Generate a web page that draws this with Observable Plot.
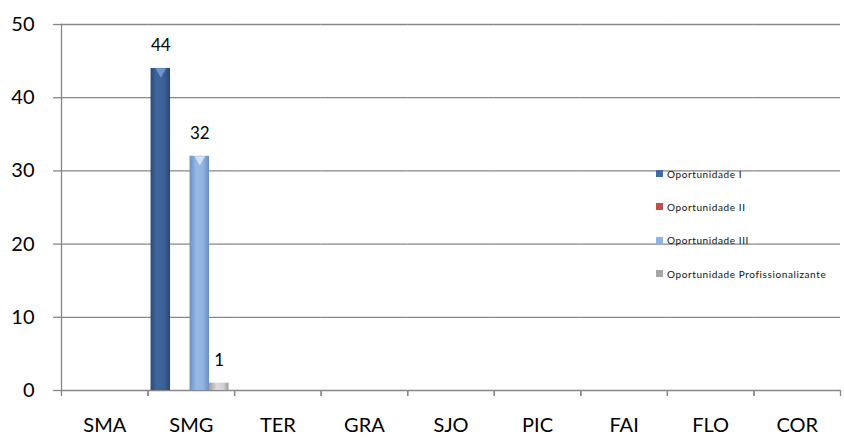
<!DOCTYPE html>
<html><head><meta charset="utf-8">
<script src="https://cdn.jsdelivr.net/npm/d3@7"></script>
<script src="https://cdn.jsdelivr.net/npm/@observablehq/plot@0.6"></script>
<style>
body{margin:0;background:#fff;font-family:Lato,sans-serif}
#wrap{position:relative;width:844px;height:438px}
#legend{position:absolute;left:656px;top:157px;font-size:10px;color:#111;letter-spacing:0.6px}
.item{display:flex;align-items:center;height:33.3px;white-space:nowrap}
.sw{width:7px;height:7px;margin-right:4px;flex:none}
</style></head><body><div id="wrap"></div>
<script>
const categories = ["SMA","SMG","TER","GRA","SJO","PIC","FAI","FLO","COR"];
const seriesNames = ["Oportunidade I","Oportunidade II","Oportunidade III","Oportunidade Profissionalizante"];
const opI    = [0,44,0,0,0,0,0,0,0];
const opII   = [0,0,0,0,0,0,0,0,0];
const opIII  = [0,32,0,0,0,0,0,0,0];
const opProf = [0,1,0,0,0,0,0,0,0];
const yTicks = [0,10,20,30,40,50];
const legendColors = ["#3F6BA6","#C0504D","#8DB4E2","#A6A6A6"];

const seriesValues = [opI, opII, opIII, opProf];
const data = categories.flatMap((c,i)=> seriesNames.map((s,k)=>({cat:c, series:s, value: seriesValues[k][i]})));
const shown = data.filter(d => d.value > 0);

const W = 844, H = 438, mL = 61, mR = 4, mT = 24, mB = 48;
const bw = (W - mL - mR) / categories.length;
const grid = "#878787";

const chart = Plot.plot({
  width: W, height: H,
  marginLeft: mL, marginRight: mR, marginTop: mT, marginBottom: mB,
  style: {fontFamily: "Lato, sans-serif", background: "#fff", color: "#000"},
  fx: {domain: categories, padding: 0, round: false, label: null},
  x: {domain: seriesNames, paddingInner: 0, paddingOuter: 0.22, align: 0.35, round: false, axis: null},
  y: {domain: [0, 50]},
  color: {domain: seriesNames, range: ["url(#gI)","url(#gII)","url(#gIII)","url(#gP)"]},
  marks: [
    Plot.ruleY(yTicks, {stroke: grid, strokeWidth: 1.3}),
    Plot.frame({anchor: "left", fx: () => categories[0], stroke: grid, strokeWidth: 1.3}),
    Plot.axisY(yTicks, {tickSize: 8, tickPadding: 19, fontSize: 20, label: null, stroke: grid, strokeWidth: 1.3}),
    Plot.axisFx({anchor: "bottom", tickSize: 0, tickPadding: 27, fontSize: 20, label: null}),
    Plot.axisFx({anchor: "bottom", tickSize: 6, dx: -bw/2, tickFormat: () => "", label: null, stroke: grid, strokeWidth: 1.3}),
    Plot.axisFx({anchor: "bottom", tickSize: 6, dx: bw/2, tickFormat: () => "", label: null, stroke: grid, strokeWidth: 1.3}),
    Plot.barY(data, {fx: "cat", x: "series", y: "value", fill: "series"}),
    Plot.dot(shown.filter(d => d.series === seriesNames[0]), {fx: "cat", x: "series", y: "value", symbol: "triangle", rotate: 180, r: 4, dy: 3, fill: "#6E96CC"}),
    Plot.dot(shown.filter(d => d.series === seriesNames[2]), {fx: "cat", x: "series", y: "value", symbol: "triangle", rotate: 180, r: 4, dy: 3, fill: "#CFE2F8"}),
    Plot.text(shown, {fx: "cat", x: "series", y: "value", text: "value", dy: -23, fontSize: 17})
  ]
});

const NS = "http://www.w3.org/2000/svg";
const defs = document.createElementNS(NS, "defs");
function grad(id, stops) {
  const g = document.createElementNS(NS, "linearGradient");
  g.setAttribute("id", id); g.setAttribute("x1","0"); g.setAttribute("x2","1"); g.setAttribute("y1","0"); g.setAttribute("y2","0");
  for (const [o, c] of stops) {
    const s = document.createElementNS(NS, "stop");
    s.setAttribute("offset", o); s.setAttribute("stop-color", c);
    g.appendChild(s);
  }
  defs.appendChild(g);
}
grad("gI",  [[0,"#2A4A76"],[0.3,"#3E669C"],[0.7,"#3B6297"],[1,"#294772"]]);
grad("gII", [[0,"#8E2F2D"],[0.35,"#C0504D"],[0.7,"#BA4C49"],[1,"#8C2E2C"]]);
grad("gIII",[[0,"#6C91C4"],[0.35,"#95B9E5"],[0.7,"#8FB4E1"],[1,"#6A8FC2"]]);
grad("gP",  [[0,"#9C9C9C"],[0.4,"#DCDCDC"],[0.75,"#CFCFCF"],[1,"#9A9A9A"]]);
chart.insertBefore(defs, chart.firstChild);

const wrap = document.getElementById("wrap");
wrap.appendChild(chart);
const legend = document.createElement("div");
legend.id = "legend";
seriesNames.forEach((s, k) => {
  const it = document.createElement("div"); it.className = "item";
  const sw = document.createElement("span"); sw.className = "sw"; sw.style.background = legendColors[k];
  const t = document.createElement("span"); t.textContent = s;
  it.appendChild(sw); it.appendChild(t); legend.appendChild(it);
});
wrap.appendChild(legend);
</script></body></html>
